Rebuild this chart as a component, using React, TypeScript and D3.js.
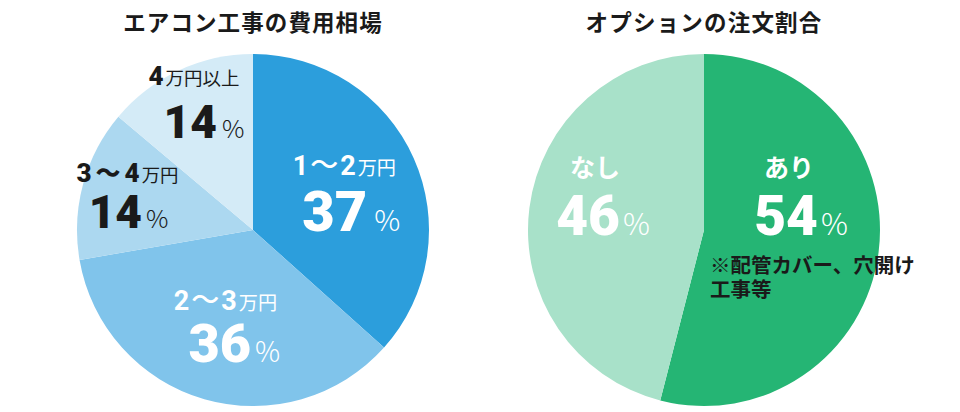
import * as d3 from "d3";

// --- data ---
const costCategories = ["1～2万円", "2～3万円", "3～4万円", "4万円以上"];
const costShares = [37, 36, 14, 14];
const optionCategories = ["あり", "なし"];
const optionShares = [54, 46];
const optionNote = ["※配管カバー、穴開け", "工事等"];

const W = 960;
const H = 412;
const R = 176;
const JP = "'Noto Sans CJK JP', sans-serif";
const NUM = "Roboto, 'Noto Sans', sans-serif";
const DARK = "#1a1a1a";

const costColors = ["#2c9edc", "#80c4eb", "#acd8f0", "#d4ebf7"];
const costInk = ["#fff", "#fff", DARK, DARK];
const optionColors = ["#25b574", "#a8e1c9"];

// label layout per slice (distance of centroid, line offsets, font sizes)
const costLabelR = [100, 100, 130, 140];
const costLine1Dy = [-14, -16, -14, -18];
const costLine2Dy = [42, 36, 32, 35];
const costLine2Dx = [7, 9, 1, 10];
const costHead = [27, 27, 26, 26];
const costHeadWeight = [700, 700, 900, 900];
const costDashGap = [2, 2, 4, 4];
const costBig = [56, 54, 46, 46];
const costPct = [29, 28, 25, 25];
const costPctGap = [7, 4, 4, 5];

const optionLabelX = [87, -103];
const optionLine1Dx = [-2, -6];
const optionLine2Dx = [10, 2];

const pieGen = d3
  .pie<number>()
  .sort(null)
  .value((d) => d);
const arcGen = d3.arc<d3.PieArcDatum<number>>().innerRadius(0).outerRadius(R);

// split "1～2万円" into runs: digits / wave dash / kanji
function runs(s: string) {
  return s.match(/[0-9]+|～|[^0-9～]+/g) || [];
}

function Head({ text, size, weight, gap }: { text: string; size: number; weight: number; gap: number }) {
  const parts = runs(text);
  return (
    <>
      {parts.map((r, i) => {
        const afterDash = i > 0 && parts[i - 1] === "～";
        if (/^[0-9]+$/.test(r))
          return (
            <tspan key={i} fontFamily={NUM} fontWeight={weight} fontSize={size} dx={afterDash ? gap : 0}>
              {r}
            </tspan>
          );
        if (r === "～")
          return (
            <tspan
              key={i}
              fontFamily={JP}
              fontWeight={weight > 800 ? 900 : 500}
              fontSize={weight > 800 ? size - 1 : size + 1}
              dx={gap}
            >
              {r}
            </tspan>
          );
        return (
          <tspan key={i} fontFamily={JP} fontWeight={400} fontSize={size * 0.71} dx={2}>
            {r}
          </tspan>
        );
      })}
    </>
  );
}

function CostPie() {
  const cx = 253;
  const cy = 230;
  const arcs = pieGen(costShares);
  return (
    <g transform={`translate(${cx},${cy})`}>
      {arcs.map((a, i) => (
        <path key={i} d={arcGen(a) || ""} fill={costColors[i]} />
      ))}
      {arcs.map((a, i) => {
        const [lx, ly] = d3
          .arc<d3.PieArcDatum<number>>()
          .innerRadius(costLabelR[i])
          .outerRadius(costLabelR[i])
          .centroid(a);
        return (
          <g key={i} fill={costInk[i]} textAnchor="middle">
            <text x={lx} y={ly + costLine1Dy[i]}>
              <Head text={costCategories[i]} size={costHead[i]} weight={costHeadWeight[i]} gap={costDashGap[i]} />
            </text>
            <text x={lx + costLine2Dx[i]} y={ly + costLine2Dy[i]}>
              <tspan fontFamily={NUM} fontWeight={900} fontSize={costBig[i]}>
                {costShares[i]}
              </tspan>
              <tspan fontFamily={JP} fontWeight={300} fontSize={costPct[i]} dx={costPctGap[i]}>
                %
              </tspan>
            </text>
          </g>
        );
      })}
      <text
        x={0}
        y={31 - cy}
        textAnchor="middle"
        fontFamily={JP}
        fontWeight={700}
        fontSize={22.5}
        letterSpacing={1.1}
        fill={DARK}
      >
        エアコン工事の費用相場
      </text>
    </g>
  );
}

function OptionPie() {
  const cx = 704;
  const cy = 230;
  const arcs = pieGen(optionShares);
  return (
    <g transform={`translate(${cx},${cy})`}>
      {arcs.map((a, i) => (
        <path key={i} d={arcGen(a) || ""} fill={optionColors[i]} />
      ))}
      {arcs.map((a, i) => (
        <g key={i} fill="#fff" textAnchor="middle">
          <text
            x={optionLabelX[i] + optionLine1Dx[i]}
            y={-53}
            fontFamily={JP}
            fontWeight={700}
            fontSize={25}
          >
            {optionCategories[i]}
          </text>
          <text x={optionLabelX[i] + optionLine2Dx[i]} y={5}>
            <tspan fontFamily={NUM} fontWeight={900} fontSize={55}>
              {optionShares[i]}
            </tspan>
            <tspan fontFamily={JP} fontWeight={300} fontSize={30} dx={3}>
              %
            </tspan>
          </text>
        </g>
      ))}
      <text x={6} fontFamily={JP} fontWeight={700} fontSize={20.5} fill={DARK}>
        {optionNote.map((t, i) => (
          <tspan key={i} x={6} y={43 + i * 24}>
            {t}
          </tspan>
        ))}
      </text>
      <text
        x={0}
        y={31 - cy}
        textAnchor="middle"
        fontFamily={JP}
        fontWeight={700}
        fontSize={22.5}
        letterSpacing={1.2}
        fill={DARK}
      >
        オプションの注文割合
      </text>
    </g>
  );
}

export default function App() {
  return (
    <svg
      width={W}
      height={H}
      viewBox={`0 0 ${W} ${H}`}
      style={{ position: "absolute", left: 0, top: 0, background: "#fff" }}
    >
      <CostPie />
      <OptionPie />
    </svg>
  );
}
